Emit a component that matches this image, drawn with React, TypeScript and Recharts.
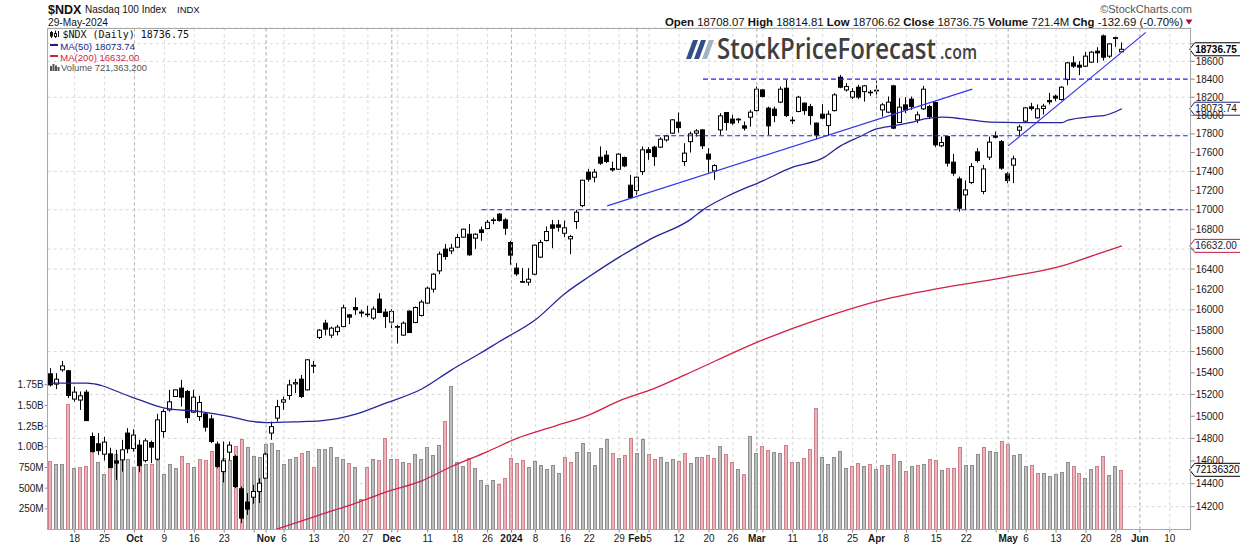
import React from 'react';
import { ComposedChart, Bar, Line, XAxis, YAxis, CartesianGrid, ReferenceLine } from 'recharts';

const FONT = '"Liberation Sans", Arial, Helvetica, sans-serif';

// trading sessions on the time axis (the last ones are future, empty sessions)
const sessions: [string, number[]][] = [
  ['2023-09', [12, 13, 14, 15, 18, 19, 20, 21, 22, 25, 26, 27, 28, 29]],
  ['2023-10', [2, 3, 4, 5, 6, 9, 10, 11, 12, 13, 16, 17, 18, 19, 20, 23, 24, 25, 26, 27, 30, 31]],
  ['2023-11', [1, 2, 3, 6, 7, 8, 9, 10, 13, 14, 15, 16, 17, 20, 21, 22, 24, 27, 28, 29, 30]],
  ['2023-12', [1, 4, 5, 6, 7, 8, 11, 12, 13, 14, 15, 18, 19, 20, 21, 22, 26, 27, 28, 29]],
  ['2024-01', [2, 3, 4, 5, 8, 9, 10, 11, 12, 16, 17, 18, 19, 22, 23, 24, 25, 26, 29, 30, 31]],
  ['2024-02', [1, 2, 5, 6, 7, 8, 9, 12, 13, 14, 15, 16, 20, 21, 22, 23, 26, 27, 28, 29]],
  ['2024-03', [1, 4, 5, 6, 7, 8, 11, 12, 13, 14, 15, 18, 19, 20, 21, 22, 25, 26, 27, 28]],
  ['2024-04', [1, 2, 3, 4, 5, 8, 9, 10, 11, 12, 15, 16, 17, 18, 19, 22, 23, 24, 25, 26, 29, 30]],
  ['2024-05', [1, 2, 3, 6, 7, 8, 9, 10, 13, 14, 15, 16, 17, 20, 21, 22, 23, 24, 28, 29, 30, 31]],
  ['2024-06', [3, 4, 5, 6, 7, 10, 11, 12, 13]],
];
const dates: string[] = sessions.flatMap(([m, ds]) => ds.map((d) => `${m}-${d < 10 ? '0' + d : d}`));

const opens = [
  15391, 15295, 15428, 15419, 15157, 15148, 15221, 14817, 14752, 14659,
  14662, 14600, 14609, 14848, 14710, 14740, 14603, 14763, 14615, 14862,
  15058, 15181, 15258, 15227, 15037, 14997, 15022, 14976, 14749, 14505,
  14677, 14638, 14355, 14240, 14282, 14331, 14448, 14848, 14983, 15129,
  15190, 15297, 15341, 15242, 15470, 15734, 15871, 15756, 15790, 15838,
  15951, 16022, 15978, 15954, 15920, 16104, 15978, 15881, 15838, 15756,
  15987, 15877, 15945, 16065, 16201, 16382, 16599, 16582, 16619, 16720,
  16750, 16710, 16794, 16807, 16893, 16955, 16896, 16666, 16409, 16276,
  16270, 16349, 16519, 16686, 16845, 16845, 16760, 16703, 16879, 17043,
  17392, 17339, 17551, 17572, 17430, 17423, 17547, 17255, 17199, 17398,
  17629, 17658, 17658, 17735, 17808, 17927, 17504, 17717, 17808, 17843,
  17583, 17405, 17843, 18032, 17960, 17952, 17887, 17981, 18053, 18281,
  18080, 18069, 18146, 18300, 17949, 18043, 18135, 18097, 17917, 18014,
  17890, 18053, 18422, 18281, 18201, 18311, 18262, 18251, 18278, 18061,
  18036, 18326, 17923, 18116, 18179, 17952, 18072, 18097, 18142, 17672,
  17771, 17498, 17321, 17154, 17283, 17607, 17189, 17551, 17778, 17717,
  17374, 17466, 17840, 17938, 18094, 17974, 18076, 18164, 18212, 18175,
  18396, 18583, 18557, 18546, 18591, 18715, 18889, 18659, 18860, 18708.07,
];
const highs = [
  15444, 15397, 15512, 15428, 15273, 15227, 15242, 14853, 14848, 14814,
  14716, 14698, 14787, 14892, 14883, 14787, 14799, 14781, 15022, 15065,
  15242, 15245, 15335, 15242, 15242, 15187, 15034, 15013, 14772, 14772,
  14772, 14653, 14375, 14317, 14390, 14448, 14673, 14952, 15150, 15181,
  15335, 15344, 15381, 15528, 15512, 15813, 15903, 15838, 15855, 16049,
  15958, 16119, 16000, 16039, 16032, 16162, 16010, 16007, 15855, 15887,
  15993, 16032, 16097, 16227, 16359, 16575, 16652, 16652, 16750, 16806,
  16855, 16760, 16828, 16896, 16920, 16965, 16913, 16683, 16459, 16409,
  16409, 16645, 16693, 16828, 16896, 16896, 16889, 16743, 16999, 17311,
  17426, 17426, 17665, 17621, 17504, 17594, 17557, 17363, 17345, 17665,
  17658, 17672, 17764, 17789, 17960, 18032, 17700, 17825, 17851, 17851,
  17647, 17476, 18025, 18039, 18007, 17971, 17934, 18061, 18318, 18289,
  18097, 18097, 18318, 18392, 17988, 18215, 18142, 18127, 17923, 18124,
  18053, 18245, 18448, 18355, 18300, 18337, 18337, 18281, 18385, 18135,
  18208, 18337, 18190, 18201, 18208, 18043, 18326, 18116, 18153, 17771,
  17778, 17586, 17345, 17304, 17487, 17647, 17469, 17771, 17825, 17735,
  17395, 17568, 17901, 18091, 18138, 18120, 18127, 18248, 18230, 18322,
  18594, 18659, 18602, 18707, 18715, 18760, 18905, 18805, 18880, 18814.81,
];
const lows = [
  15273, 15249, 15412, 15166, 15135, 15058, 14955, 14675, 14653, 14603,
  14535, 14433, 14505, 14668, 14682, 14500, 14585, 14580, 14603, 14808,
  15043, 15178, 15088, 14938, 15032, 14958, 14862, 14758, 14535, 14410,
  14603, 14361, 14059, 14130, 14225, 14231, 14439, 14787, 14952, 15058,
  15150, 15212, 15166, 15236, 15397, 15718, 15753, 15728, 15753, 15832,
  15862, 15951, 15929, 15929, 15903, 15968, 15823, 15823, 15676, 15750,
  15775, 15871, 15935, 16058, 16168, 16349, 16492, 16549, 16609, 16715,
  16532, 16602, 16683, 16801, 16852, 16879, 16743, 16442, 16332, 16265,
  16236, 16339, 16509, 16676, 16609, 16777, 16720, 16549, 16804, 17027,
  17292, 17285, 17469, 17487, 17398, 17416, 17445, 17120, 17154, 17363,
  17522, 17458, 17647, 17717, 17800, 17814, 17458, 17600, 17771, 17636,
  17387, 17311, 17789, 17836, 17898, 17917, 17836, 17879, 18043, 18197,
  17789, 17927, 18135, 17982, 17908, 18036, 18007, 17898, 17743, 17960,
  17778, 18043, 18300, 18262, 18179, 18179, 18152, 18215, 18190, 17988,
  18025, 17851, 17917, 18025, 18061, 17917, 18061, 17960, 17658, 17658,
  17451, 17353, 16981, 16999, 17266, 17494, 17161, 17522, 17753, 17416,
  17275, 17277, 17775, 17930, 18053, 17966, 18010, 18120, 18157, 18164,
  18333, 18527, 18445, 18535, 18583, 18583, 18609, 18639, 18765, 18706.62,
];
const closes = [
  15288, 15341, 15465, 15190, 15221, 15187, 14961, 14682, 14691, 14767,
  14541, 14580, 14698, 14707, 14830, 14558, 14778, 14722, 14967, 15043,
  15132, 15242, 15175, 14988, 15175, 15126, 14901, 14772, 14550, 14600,
  14740, 14375, 14102, 14179, 14331, 14404, 14659, 14906, 15088, 15150,
  15288, 15309, 15181, 15522, 15463, 15804, 15813, 15823, 15833, 16019,
  15929, 16000, 15968, 15958, 16007, 15974, 15935, 15984, 15833, 15871,
  15781, 16022, 16075, 16211, 16349, 16549, 16525, 16609, 16716, 16801,
  16542, 16750, 16767, 16872, 16896, 16889, 16811, 16539, 16352, 16270,
  16299, 16639, 16666, 16777, 16811, 16821, 16815, 16726, 16975, 17307,
  17318, 17392, 17487, 17504, 17416, 17583, 17458, 17126, 17339, 17629,
  17600, 17557, 17743, 17778, 17952, 17868, 17594, 17800, 17832, 17672,
  17530, 17461, 17996, 17923, 17917, 17960, 17862, 18036, 18289, 18208,
  17887, 17999, 18289, 17999, 17944, 18201, 18053, 17999, 17789, 17971,
  18014, 18226, 18311, 18318, 18262, 18201, 18326, 18256, 18270, 18116,
  18146, 17862, 18091, 18061, 18097, 18007, 18289, 17988, 17682, 17707,
  17487, 17381, 17016, 17206, 17451, 17515, 17426, 17711, 17764, 17434,
  17304, 17533, 17876, 18083, 18076, 18072, 18102, 18149, 18190, 18311,
  18583, 18546, 18535, 18659, 18704, 18696, 18647, 18798, 18869.44, 18736.75,
];
// volume in millions of shares
const volumesM = [
  824, 788, 788, 1516, 743, 755, 763, 1053, 812, 670,
  800, 908, 912, 852, 755, 795, 788, 788, 900, 667,
  788, 747, 884, 800, 751, 852, 840, 944, 920, 864,
  840, 1009, 1089, 993, 884, 876, 1029, 1041, 960, 788,
  852, 872, 920, 944, 755, 969, 969, 993, 872, 848,
  800, 751, 368, 751, 848, 840, 1102, 848, 848, 812,
  800, 908, 848, 993, 896, 1017, 1307, 1733, 812, 763,
  860, 739, 594, 534, 594, 546, 618, 860, 800, 836,
  751, 824, 776, 727, 776, 679, 872, 812, 933, 1041,
  933, 776, 981, 1089, 920, 860, 896, 1102, 920, 1089,
  908, 848, 872, 812, 848, 824, 920, 800, 872, 872,
  896, 860, 1005, 908, 812, 727, 667, 1126, 920, 1005,
  957, 933, 920, 1017, 812, 812, 860, 969, 1464, 872,
  788, 872, 944, 739, 763, 800, 763, 788, 727, 776,
  776, 908, 824, 703, 763, 776, 788, 848, 836, 715,
  739, 739, 993, 776, 776, 908, 993, 944, 933, 1065,
  1029, 896, 908, 763, 776, 679, 679, 643, 667, 691,
  812, 763, 679, 618, 727, 763, 884, 655, 763, 721.3632,
];

// moving averages: [session index, value]
const ma50Points: [number, number][] = [
  [0, 15304], [6, 15304], [14, 15166], [19, 15074], [25, 15043], [30, 14997], [33, 14958], [36, 14943],
  [42, 14952], [45, 14958], [51, 15019], [56, 15120], [62, 15250], [67, 15428], [72, 15591], [75, 15696],
  [81, 15903], [86, 16162], [90, 16326], [95, 16519], [100, 16693], [107, 16904], [109, 16999], [113, 17137],
  [119, 17301], [124, 17444], [129, 17540], [132, 17671], [135, 17764], [138, 17854], [141, 17890], [144, 17927],
  [146, 17963], [149, 17981], [152, 17966], [155, 17941], [157, 17927], [162, 17923], [169, 17923], [170, 17949],
  [174, 17988], [176, 17999], [179, 18073.74],
];
const ma200Points: [number, number][] = [
  [37, 13995], [45, 14130], [51, 14231], [56, 14326], [62, 14424], [67, 14550], [73, 14682], [78, 14803],
  [84, 14907], [90, 15013], [95, 15141], [101, 15258], [106, 15381], [119, 15711], [129, 15922], [139, 16097],
  [149, 16214], [159, 16313], [169, 16432], [175, 16552], [179, 16632],
];

const xTickDates = [
  '2023-09-18', '2023-09-25', '2023-10-02', '2023-10-09', '2023-10-16', '2023-10-23', '2023-10-30', '2023-11-01',
  '2023-11-06', '2023-11-13', '2023-11-20', '2023-11-27', '2023-12-01', '2023-12-04', '2023-12-11', '2023-12-18',
  '2023-12-26', '2024-01-02', '2024-01-08', '2024-01-16', '2024-01-22', '2024-01-29', '2024-02-01', '2024-02-05',
  '2024-02-12', '2024-02-20', '2024-02-26', '2024-03-01', '2024-03-04', '2024-03-11', '2024-03-18', '2024-03-25',
  '2024-04-01', '2024-04-08', '2024-04-15', '2024-04-22', '2024-04-29', '2024-05-01', '2024-05-06', '2024-05-13',
  '2024-05-20', '2024-05-28', '2024-06-03', '2024-06-10',
];
const xTickLabels = [
  '18', '25', 'Oct', '9', '16', '23', '', 'Nov',
  '6', '13', '20', '27', 'Dec', '', '11', '18',
  '26', '2024', '8', '16', '22', '29', 'Feb', '5',
  '12', '20', '26', 'Mar', '', '11', '18', '25',
  'Apr', '8', '15', '22', '', 'May', '6', '13',
  '20', '28', 'Jun', '10',
];
const monthStarts = [
  '2023-10-02', '2023-11-01', '2023-12-01', '2024-01-02', '2024-02-01', '2024-03-01', '2024-04-01', '2024-05-01', '2024-06-03',
];

const priceTicks = [14200, 14400, 14600, 14800, 15000, 15200, 15400, 15600, 15800, 16000, 16200, 16400, 16600, 16800,
  17000, 17200, 17400, 17600, 17800, 18000, 18200, 18400, 18600, 18800];
// tick labels hidden behind the last-value tags
const coveredPriceTicks = [18800, 16600];
const volTicks = [250e6, 500e6, 750e6, 1000e6, 1250e6, 1500e6, 1750e6];
const volTickLabels = ['250M', '500M', '750M', '1.00B', '1.25B', '1.50B', '1.75B'];

const supportLines = [
  { value: 18400, from: '2024-02-16', to: '2024-06-13' },
  { value: 17780, from: '2024-02-06', to: '2024-06-13' },
  { value: 17000, from: '2023-12-22', to: '2024-06-13' },
];
const trendLines = [
  { from: '2024-01-25', fromValue: 17040, to: '2024-04-23', toValue: 18290 },
  { from: '2024-05-01', fromValue: 17671, to: '2024-06-04', toValue: 18930 },
];

const last = closes.length - 1;
const lastMa50 = ma50Points[ma50Points.length - 1][1];
const lastMa200 = ma200Points[ma200Points.length - 1][1];
const lastVolume = Math.round(volumesM[last] * 1e6);

const ma50Map = new Map<number, number>(ma50Points);
const ma200Map = new Map<number, number>(ma200Points);

const rows = dates.map((date, i) => {
  const has = i < closes.length;
  return {
    date,
    open: has ? opens[i] : null,
    high: has ? highs[i] : null,
    low: has ? lows[i] : null,
    close: has ? closes[i] : null,
    range: has ? [lows[i], highs[i]] : null,
    volume: has ? volumesM[i] * 1e6 : null,
    down: has ? (i === 0 ? closes[0] < opens[0] : closes[i] < closes[i - 1]) : false,
    ma50: ma50Map.has(i) ? ma50Map.get(i) : null,
    ma200: ma200Map.has(i) ? ma200Map.get(i) : null,
  };
});

const Candle = (props: any) => {
  const p = props.payload ?? props;
  const { x, y, width, height } = props;
  if (!p || p.high == null || x == null || y == null || !isFinite(y) || !isFinite(height)) return <g />;
  const top = Math.min(y, y + height);
  const bot = Math.max(y, y + height);
  const lh = Math.log(p.high);
  const ll = Math.log(p.low);
  const span = lh - ll;
  const py = (v: number) => (span > 0 ? top + ((bot - top) * (lh - Math.log(v))) / span : top);
  const c = Math.floor(x + width / 2);
  const yo = py(p.open);
  const yc = py(p.close);
  const bTop = Math.min(yo, yc);
  const bBot = Math.max(yo, yc);
  const filled = p.close < p.open;
  return (
    <g>
      <line x1={c + 0.5} x2={c + 0.5} y1={top} y2={bot} stroke="#000" strokeWidth={1} />
      <rect x={c - 1.5} y={bTop} width={4} height={Math.max(bBot - bTop, 0.6)} fill={filled ? '#000' : '#fff'} stroke="#000" strokeWidth={1} />
    </g>
  );
};

const VolBar = (props: any) => {
  const p = props.payload ?? props;
  const { x, y, width, height } = props;
  if (!p || p.volume == null || x == null || !isFinite(y) || !isFinite(height)) return <g />;
  const c = Math.floor(x + width / 2);
  const top = Math.round(Math.min(y, y + height)) + 0.5;
  const bot = Math.max(y, y + height);
  return (
    <rect x={c - 1.5} y={top} width={3} height={Math.max(bot - top, 0)}
      fill={p.down ? '#e8b4ba' : '#bdbdbd'} stroke={p.down ? '#cf7f89' : '#8e8e8e'} strokeWidth={1} />
  );
};

const XTick = (props: any) => {
  const { x, y, payload } = props;
  const idx = xTickDates.indexOf(payload.value);
  const label = idx >= 0 ? xTickLabels[idx] : '';
  const bold = monthStarts.includes(payload.value);
  return (
    <text x={x} y={y + 7} textAnchor="middle" fontSize={10} fontWeight={bold ? 700 : 400} fill="#1a1a1a" fontFamily={FONT}>
      {label}
    </text>
  );
};

const makeTag = (text: string, border: string, color: string, bold: boolean) => (props: any) => {
  const vb = props.viewBox || {};
  const x0 = (vb.x ?? 0) + (vb.width ?? 0) - 1;
  const y = vb.y ?? 0;
  const h = 6.5;
  return (
    <g>
      <polygon points={`${x0},${y} ${x0 + 5},${y - h} ${x0 + 60},${y - h} ${x0 + 60},${y + h} ${x0 + 5},${y + h}`}
        fill="#fff" stroke={border} strokeWidth={1} />
      <text x={x0 + 5.5} y={y + 3.6} fontSize={10} fontWeight={bold ? 700 : 400} fill={color} fontFamily={FONT}>{text}</text>
    </g>
  );
};

const fmt2 = (v: number) => v.toFixed(2);
const chg = closes[last] - closes[last - 1];
const chgPct = (chg / closes[last - 1]) * 100;

export default function App() {
  return (
    <div style={{ position: 'absolute', left: 0, top: 0, width: 1240, height: 546, background: '#fff', overflow: 'hidden' }}>
      <ComposedChart width={1240} height={546} data={rows} margin={{ top: 28, right: 0, bottom: 0, left: 0 }}>
        <CartesianGrid xAxisId="main" yAxisId="price" stroke="#d9d9d9" strokeDasharray="3 3" />
        <XAxis xAxisId="main" dataKey="date" ticks={xTickDates} interval={0} height={16.5}
          axisLine={false} tickLine={{ stroke: '#8a8a8a' }} tickSize={3} tickMargin={2} tick={<XTick />} />
        <XAxis xAxisId="vol" dataKey="date" hide />
        <YAxis yAxisId="vol" orientation="left" width={47.7} domain={[0, 6060e6]} ticks={volTicks} type="number"
          axisLine={false} tickLine={{ stroke: '#8a8a8a' }} tickSize={3} tickMargin={1}
          tickFormatter={(v: number) => volTickLabels[volTicks.indexOf(v)] ?? ''}
          tick={{ fontSize: 10, fill: '#1a1a1a', fontFamily: FONT }} allowDataOverflow />
        <YAxis yAxisId="price" orientation="right" width={49.3} scale="log" type="number" domain={[14005, 18980]}
          ticks={priceTicks} allowDataOverflow axisLine={false} tickLine={{ stroke: '#8a8a8a' }} tickSize={4} tickMargin={1}
          tickFormatter={(v: number) => (coveredPriceTicks.includes(v) ? '' : String(v))}
          tick={{ fontSize: 10, fill: '#1a1a1a', fontFamily: FONT }} />
        {monthStarts.map((d) => (
          <ReferenceLine key={'m' + d} xAxisId="main" yAxisId="price" x={d} stroke="#b5b5b5" strokeDasharray="3 3" />
        ))}
        <Bar xAxisId="vol" yAxisId="vol" dataKey="volume" barSize={4} shape={<VolBar />} isAnimationActive={false} />
        <Line xAxisId="main" yAxisId="price" dataKey="ma200" type="monotone" connectNulls dot={false}
          stroke="#d41f46" strokeWidth={1.3} isAnimationActive={false} />
        <Line xAxisId="main" yAxisId="price" dataKey="ma50" type="monotone" connectNulls dot={false}
          stroke="#25259a" strokeWidth={1.3} isAnimationActive={false} />
        {supportLines.map((s) => (
          <ReferenceLine key={'s' + s.value} xAxisId="main" yAxisId="price"
            segment={[{ x: s.from, y: s.value }, { x: s.to, y: s.value }]}
            stroke="#1e1eff" strokeWidth={1.2} strokeDasharray="5 3" ifOverflow="visible" />
        ))}
        {trendLines.map((t) => (
          <ReferenceLine key={'t' + t.from} xAxisId="main" yAxisId="price"
            segment={[{ x: t.from, y: t.fromValue }, { x: t.to, y: t.toValue }]}
            stroke="#3535f0" strokeWidth={1.2} ifOverflow="visible" />
        ))}
        <Bar xAxisId="main" yAxisId="price" dataKey="range" barSize={5} shape={<Candle />} isAnimationActive={false} />
        <ReferenceLine xAxisId="main" yAxisId="price" y={lastMa200} stroke="none"
          label={makeTag(fmt2(lastMa200), '#c8163c', '#222', false)} />
        <ReferenceLine xAxisId="main" yAxisId="price" y={lastMa50} stroke="none"
          label={makeTag(fmt2(lastMa50), '#1c1c8a', '#111', false)} />
        <ReferenceLine xAxisId="main" yAxisId="price" y={closes[last]} stroke="none"
          label={makeTag(fmt2(closes[last]), '#000', '#000', true)} />
        <ReferenceLine xAxisId="main" yAxisId="vol" y={lastVolume} stroke="none"
          label={makeTag(String(lastVolume).slice(0, 8), '#000', '#000', false)} />
      </ComposedChart>

      <svg width={1240} height={546} style={{ position: 'absolute', left: 0, top: 0, pointerEvents: 'none' }}>
        <rect x={47.5} y={28.5} width={1143} height={501} fill="none" stroke="#a8a8a8" strokeWidth={1} />
        <text x={48} y={14} fontSize={12.5} fontWeight={700} fontFamily={FONT} fill="#111">$NDX</text>
        <text x={85} y={12.7} fontSize={10} fontFamily={FONT} fill="#111">Nasdaq 100 Index</text>
        <text x={177} y={12.7} fontSize={9.5} fontFamily={FONT} fill="#111">INDX</text>
        <text x={48} y={26} fontSize={10.2} fontFamily={FONT} fill="#111">29-May-2024</text>
        <text x={1192} y={12.7} textAnchor="end" fontSize={11} fontFamily={FONT} fill="#555">©StockCharts.com</text>
        <text x={665} y={25.5} fontSize={11.2} fontFamily={FONT} fill="#111" textLength={518} lengthAdjust="spacingAndGlyphs">
          <tspan fontWeight={700}>Open</tspan> {fmt2(opens[last])} <tspan fontWeight={700}>High</tspan> {fmt2(highs[last])}{' '}
          <tspan fontWeight={700}>Low</tspan> {fmt2(lows[last])} <tspan fontWeight={700}>Close</tspan> {fmt2(closes[last])}{' '}
          <tspan fontWeight={700}>Volume</tspan> {volumesM[last].toFixed(1)}M <tspan fontWeight={700}>Chg</tspan>{' '}
          {fmt2(chg)} ({chgPct.toFixed(2)}%)
        </text>
        <polygon points="1185.5,19.5 1192.5,19.5 1189,24.5" fill="#b0102c" />

        {/* legend inside the plot */}
        <line x1={51.5} x2={51.5} y1={31} y2={38} stroke="#111" />
        <rect x={50.5} y={32.5} width={2} height={3.5} fill="#111" stroke="#111" />
        <line x1={55.5} x2={55.5} y1={30.5} y2={38} stroke="#111" />
        <rect x={54.5} y={33.5} width={2} height={3} fill="#fff" stroke="#111" />
        <line x1={58.5} x2={58.5} y1={31} y2={37} stroke="#111" />
        <text x={62.5} y={38.3} fontSize={10} fontFamily='"DejaVu Sans Mono", monospace' fill="#111">
          $NDX (Daily) {fmt2(closes[last])}
        </text>
        <rect x={50} y={44} width={8} height={2} fill="#1c1c8a" />
        <text x={60.3} y={50} fontSize={9.8} fontFamily={FONT} fill="#1c1c8a" textLength={74.7} lengthAdjust="spacingAndGlyphs">
          MA(50) {fmt2(lastMa50)}
        </text>
        <rect x={50} y={55} width={8} height={2} fill="#d41f46" />
        <text x={60.3} y={61} fontSize={9.8} fontFamily={FONT} fill="#d41f46" textLength={79} lengthAdjust="spacingAndGlyphs">
          MA(200) {fmt2(lastMa200)}
        </text>
        <rect x={50} y={66} width={2} height={5} fill="#555" />
        <rect x={52.5} y={64} width={2} height={7} fill="#555" />
        <rect x={55} y={65.5} width={2} height={5.5} fill="#555" />
        <rect x={57.5} y={67} width={2} height={4} fill="#555" />
        <text x={61} y={71} fontSize={9.8} fontFamily={FONT} fill="#555" textLength={86} lengthAdjust="spacingAndGlyphs">
          Volume {lastVolume.toLocaleString('en-US')}
        </text>

        {/* watermark */}
        <polygon points="686,59 691,59 698,40 693,40" fill="#2f4f86" />
        <polygon points="694,59 699,59 706,40 701,40" fill="#2f4f86" />
        <polygon points="702,59 707,59 714,40 709,40" fill="#a3b1c6" />
        <text x={717} y={59.3} fontSize={28} fontWeight={600} fontFamily='"Open Sans", sans-serif' fill="#3f3f3f"
          textLength={219} lengthAdjust="spacingAndGlyphs">StockPriceForecast</text>
        <text x={940} y={59.3} fontSize={20} fontWeight={600} fontFamily='"Open Sans", sans-serif' fill="#3f3f3f"
          textLength={37} lengthAdjust="spacingAndGlyphs">.com</text>
      </svg>
    </div>
  );
}
